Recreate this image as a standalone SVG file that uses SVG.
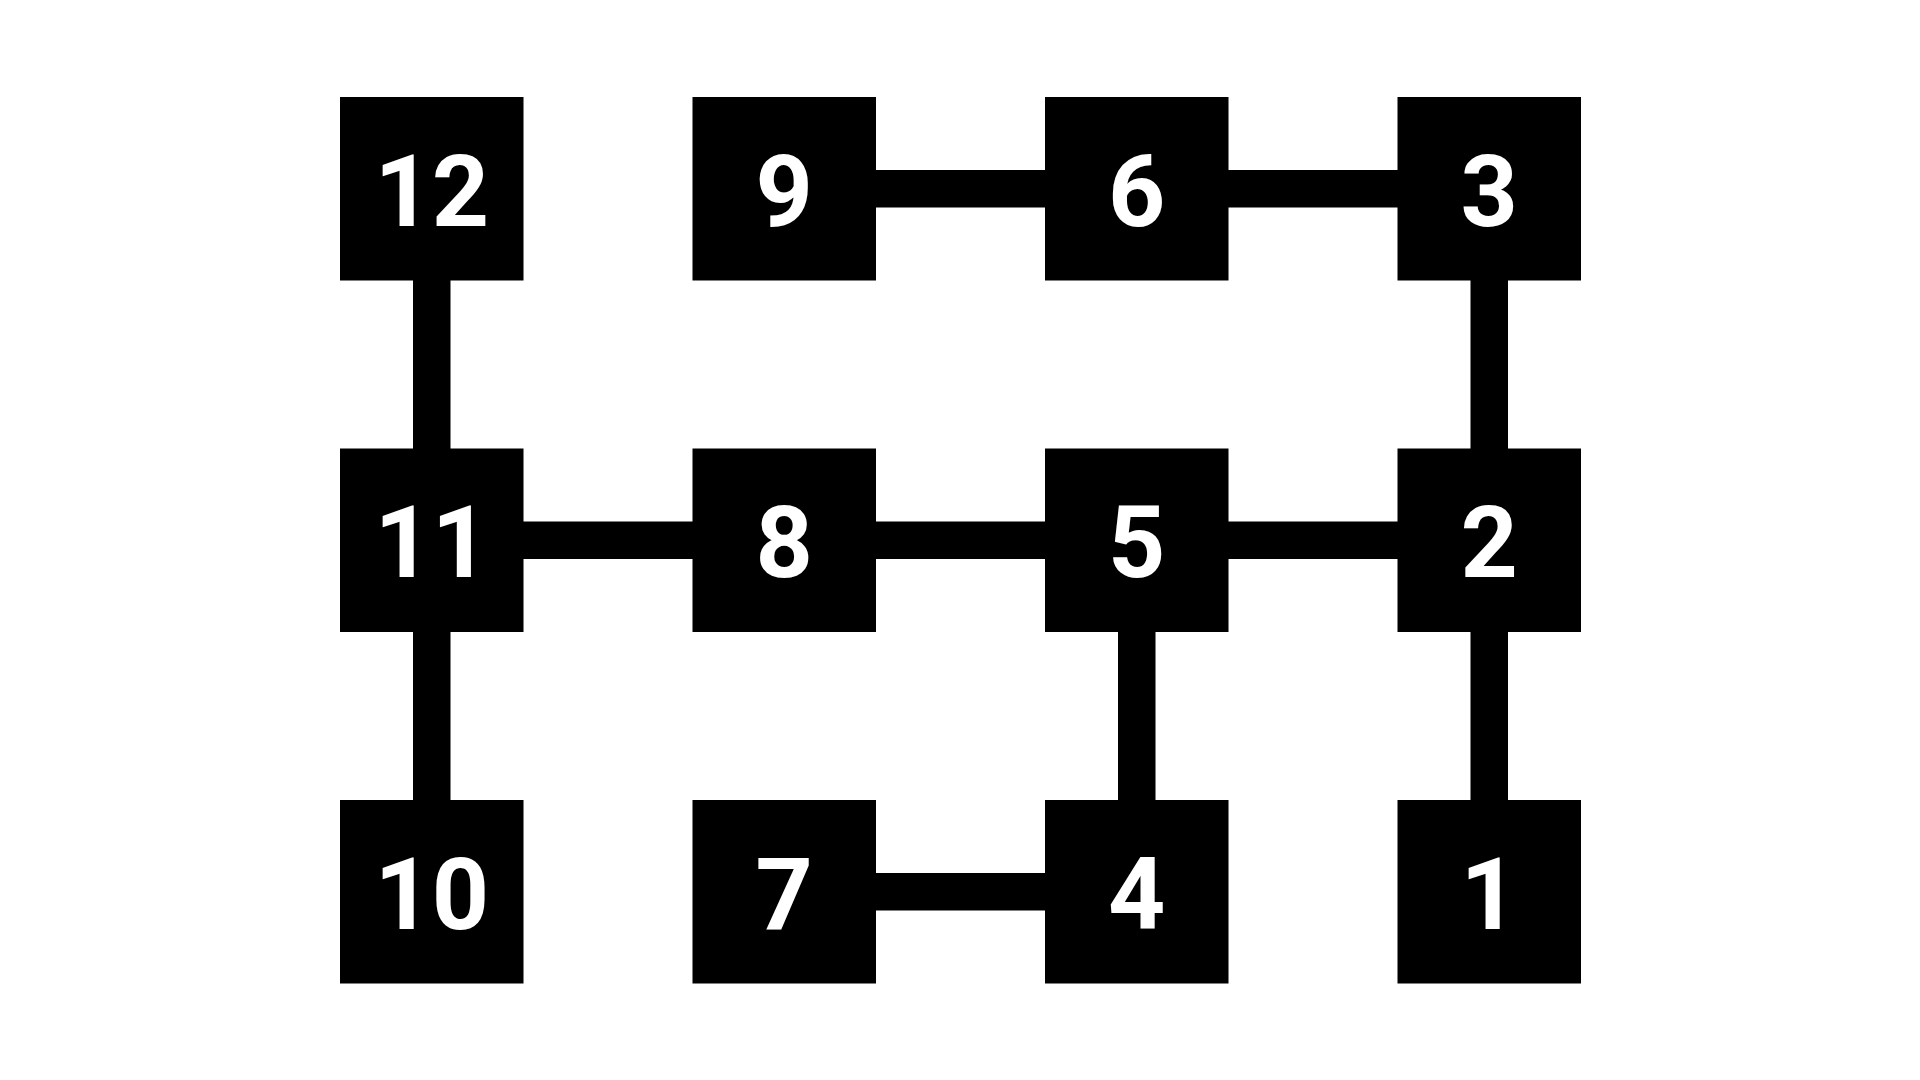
<svg xmlns="http://www.w3.org/2000/svg" width="1920" height="1080" viewBox="0 0 1920 1080">
<style>
.box{fill:#000}
.lbl{fill:#fff;font-family:Roboto,"Liberation Sans",Arial,sans-serif;font-weight:bold;font-size:100px;text-anchor:middle}
.edge{stroke:#000;stroke-width:37.5;fill:none}
</style>
<rect width="1920" height="1080" fill="#fff"/>
<g id="connectors">
<line class="edge" x1="431.75" y1="188.75" x2="431.75" y2="891.75"/>
<line class="edge" x1="784.25" y1="188.75" x2="1489.25" y2="188.75"/>
<line class="edge" x1="1489.25" y1="188.75" x2="1489.25" y2="891.75"/>
<line class="edge" x1="431.75" y1="540.25" x2="1489.25" y2="540.25"/>
<line class="edge" x1="1136.75" y1="540.25" x2="1136.75" y2="891.75"/>
<line class="edge" x1="784.25" y1="891.75" x2="1136.75" y2="891.75"/>
</g>
<g id="n12"><rect class="box" x="340" y="97" width="183.5" height="183.5"/><text class="lbl" x="431.75" y="225.5">12</text></g>
<g id="n9"><rect class="box" x="692.5" y="97" width="183.5" height="183.5"/><text class="lbl" x="784.25" y="225.5">9</text></g>
<g id="n6"><rect class="box" x="1045" y="97" width="183.5" height="183.5"/><text class="lbl" x="1136.75" y="225.5">6</text></g>
<g id="n3"><rect class="box" x="1397.5" y="97" width="183.5" height="183.5"/><text class="lbl" x="1489.25" y="225.5">3</text></g>
<g id="n11"><rect class="box" x="340" y="448.5" width="183.5" height="183.5"/><text class="lbl" x="431.75" y="577">11</text></g>
<g id="n8"><rect class="box" x="692.5" y="448.5" width="183.5" height="183.5"/><text class="lbl" x="784.25" y="577">8</text></g>
<g id="n5"><rect class="box" x="1045" y="448.5" width="183.5" height="183.5"/><text class="lbl" x="1136.75" y="577">5</text></g>
<g id="n2"><rect class="box" x="1397.5" y="448.5" width="183.5" height="183.5"/><text class="lbl" x="1489.25" y="577">2</text></g>
<g id="n10"><rect class="box" x="340" y="800" width="183.5" height="183.5"/><text class="lbl" x="431.75" y="928.5">10</text></g>
<g id="n7"><rect class="box" x="692.5" y="800" width="183.5" height="183.5"/><text class="lbl" x="784.25" y="928.5">7</text></g>
<g id="n4"><rect class="box" x="1045" y="800" width="183.5" height="183.5"/><text class="lbl" x="1136.75" y="928.5">4</text></g>
<g id="n1"><rect class="box" x="1397.5" y="800" width="183.5" height="183.5"/><text class="lbl" x="1489.25" y="928.5">1</text></g>
</svg>
